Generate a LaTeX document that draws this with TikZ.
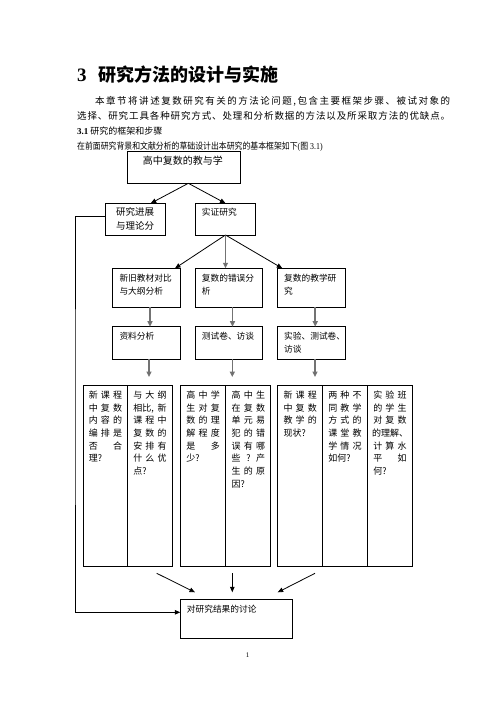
\documentclass[tikz,border=0pt]{standalone}
\usepackage{fontspec}
\setmainfont{Liberation Serif}
\newfontfamily\cjk{Noto Sans CJK SC}
\usetikzlibrary{arrows.meta}
\newlength\cw \setlength\cw{33.4pt}
\newcommand\trio[3]{\hbox to \cw{#1\hfill#2\hfill#3}}
\newcommand\lft[1]{\hbox to \cw{#1\hfill}}
\def\spreadloop#1{\ifx#1\relax\else#1\hfill\expandafter\spreadloop\fi}
\newcommand\spreadto[3]{\hbox to #1{\spreadloop#2\relax#3}}
\begin{document}
\begin{tikzpicture}[x=1pt,y=-1pt,
  box/.style={draw, line width=1pt, inner sep=0pt, outer sep=0pt, anchor=north west},
  lab/.style={inner sep=0pt, anchor=base west, font=\cjk\fontsize{8.7}{12.7}\selectfont},
  para/.style={inner sep=0pt, anchor=base west, font=\cjk\fontsize{9}{15}\selectfont},
  cell/.style={inner sep=0pt, anchor=base west, font=\cjk\fontsize{9}{12.7}\selectfont},
  arr/.style={line width=0.8pt, -{Triangle[length=5.5pt,width=4.5pt]}},
  garr/.style={line width=1.5pt, draw=black!55, -{Triangle[length=5.5pt,width=5pt,fill=black!80]}}
  ]
\fill[white] (0,0) rectangle (496,702);
\useasboundingbox (0,0) rectangle (496,702);

% heading and paragraph
\node[inner sep=0pt, anchor=base west, font=\rmfamily\bfseries\fontsize{19}{20}\selectfont] (title) at (77,81.5)
  {3\hspace{12pt}{\cjk\bfseries\fontsize{18}{20}\selectfont 研究方法的设计与实施}};
\node[para, font=\cjk\fontsize{9.5}{15}\selectfont] (p1) at (95,104.6) {\spreadto{355pt}{本章节将讲述复数研究有关的方法论问题,包含主要框架步骤、被试对象}{的}};
\node[para, font=\cjk\fontsize{9.5}{15}\selectfont] (p2) at (77,119.6) {\spreadto{373pt}{选择、研究工具各种研究方式、处理和分析数据的方法以及所采取方法的优缺点}{。}};
\node[para] (p3) at (77,134.4) {{\rmfamily\bfseries 3.1} 研究的框架和步骤};
\node[para] (p4) at (77,149.4) {\scalebox{0.875}[1]{在前面研究背景和文献分析的草础设计出本研究的基本框架如下{\rmfamily(}图{\rmfamily\ 3.1)}}};

% boxes
\node[box, minimum width=112.3pt, minimum height=31.6pt] (A) at (127.7,151.7) {};
\node[box, minimum width=60pt, minimum height=31.7pt] (B) at (105.7,203.3) {};
\node[box, minimum width=60.4pt, minimum height=31.7pt] (C) at (195.3,203.3) {};
\node[box, minimum width=68pt, minimum height=39pt] (D1) at (112.3,268.3) {};
\node[box, minimum width=67pt, minimum height=39pt] (D2) at (195.3,268.3) {};
\node[box, minimum width=68.4pt, minimum height=39pt] (D3) at (277.3,268.3) {};
\node[box, minimum width=68pt, minimum height=32.6pt] (E1) at (112.3,326.7) {};
\node[box, minimum width=67pt, minimum height=32.6pt] (E2) at (195.3,326.7) {};
\node[box, minimum width=68.4pt, minimum height=32.6pt] (E3) at (277.3,326.7) {};
\node[box, minimum width=44pt, minimum height=181.7pt] (G1a) at (83.3,385) {};
\node[box, minimum width=45pt, minimum height=181.7pt] (G1b) at (127.3,385) {};
\node[box, minimum width=45.7pt, minimum height=181.7pt] (G2a) at (180,385) {};
\node[box, minimum width=45pt, minimum height=181.7pt] (G2b) at (225.7,385) {};
\node[box, minimum width=44.6pt, minimum height=181.7pt] (G3a) at (277.7,385) {};
\node[box, minimum width=45pt, minimum height=181.7pt] (G3b) at (322.3,385) {};
\node[box, minimum width=45pt, minimum height=181.7pt] (G3c) at (367.3,385) {};
\node[box, minimum width=112pt, minimum height=39pt] (F) at (180.3,599) {};

% box labels
\node[lab, font=\cjk\fontsize{10}{12}\selectfont] (Al) at (142.7,164.5) {高中复数的教与学};
\node[lab, font=\cjk\fontsize{9.5}{14}\selectfont] (Bl) at (116,215.6) {\parbox[t]{60pt}{研究进展\\与理论分}};
\node[lab] (Cl) at (201.7,215.3) {实证研究};
\node[lab] (D1l) at (119.3,281.3) {\parbox[t]{70pt}{新旧教材对比\\与大纲分析}};
\node[lab] (D2l) at (201.7,281.3) {\parbox[t]{70pt}{复数的错误分\\析}};
\node[lab] (D3l) at (284,281.3) {\parbox[t]{70pt}{复数的教学研\\究}};
\node[lab] (E1l) at (119.3,339.3) {资料分析};
\node[lab] (E2l) at (201.7,339.3) {测试卷、访谈};
\node[lab] (E3l) at (284,339.3) {\parbox[t]{70pt}{实验、测试卷、\\访谈}};
\node[lab] (Fl) at (186.7,612.6) {对研究结果的讨论};

% cell texts
\node[cell] (c1) at (88.6,398.4) {\parbox[t]{\cw}{\trio 新课程\trio 中复数\trio 内容的\trio 编排是\trio 否{}合\lft{理?}}};
\node[cell] (c2) at (133.1,398.4) {\parbox[t]{\cw}{\trio 与大纲\hbox to \cw{相比,\hfill 新}\trio 课程中\trio 复数的\trio 安排有\trio 什么优\lft{点?}}};
\node[cell] (c3) at (186.2,398.4) {\parbox[t]{\cw}{\trio 高中学\trio 生对复\trio 数的理\trio 解程度\trio 是{}多\lft{少?}}};
\node[cell] (c4) at (231.5,398.4) {\parbox[t]{\cw}{\trio 高中生\trio 在复数\trio 单元易\trio 犯的错\trio 误有哪\trio 些?产\trio 生的原\lft{因?}}};
\node[cell] (c5) at (283.3,398.4) {\parbox[t]{\cw}{\trio 新课程\trio 中复数\trio 教学的\lft{现状?}}};
\node[cell] (c6) at (328.1,398.4) {\parbox[t]{\cw}{\trio 两种不\trio 同教学\trio 方式的\trio 课堂教\trio 学情况\lft{如何?}}};
\node[cell] (c7) at (373.1,398.4) {\parbox[t]{\cw}{\trio 实验班\trio 的学生\trio 对复数\hbox to \cw{\hss 的理解、\hss}\trio 计算水\trio 平{}如\lft{何?}}};

% page number
\node[inner sep=0pt, font=\rmfamily\fontsize{7}{8}\selectfont] (pg) at (247.7,655) {1};

% connectors
\draw[arr] ([xshift=4.5pt]A.south) -- ([xshift=15pt]B.north);
\draw[arr] ([xshift=4.5pt]A.south) -- (C.north);
\draw[arr] (C.south) -- ([xshift=28.7pt]D1.north);
\draw[garr] (C.south) -- (C.south |- D2.north);
\draw[arr] (C.south) -- ([xshift=5pt]D3.north west);
\draw[garr] ([xshift=3.7pt]D1.south) -- ([xshift=3.7pt]E1.north);
\draw[garr] ([xshift=3.7pt]D2.south) -- ([xshift=3.7pt]E2.north);
\draw[garr] ([xshift=3.7pt]D3.south) -- ([xshift=3.7pt]E3.north);
\draw[garr, shorten >=8pt] ([xshift=2.7pt]E1.south) -- ([xshift=2.7pt]E1.south |- G1b.north);
\draw[garr, shorten >=8pt] ([xshift=3.5pt]E2.south) -- ([xshift=3.5pt]E2.south |- G2b.north);
\draw[garr, shorten >=8pt] ([xshift=3.5pt]E3.south) -- ([xshift=3.5pt]E3.south |- G3b.north);

\coordinate (b1s) at (156.7,573.3);
\coordinate (b1e) at (195,592.3);
\coordinate (b2s) at (232.3,573.3);
\coordinate (b2e) at (232.3,592.3);
\coordinate (b3s) at (315,573.3);
\coordinate (b3e) at (277.7,592.3);
\draw[arr] (b1s) -- (b1e);
\draw[arr] (b2s) -- (b2e);
\draw[arr] (b3s) -- (b3e);

\coordinate (lc) at (75,400);
\draw[arr] ([yshift=3pt]B.west) -| (lc) |- ([yshift=6.2pt]F.west);
\end{tikzpicture}
\end{document}
